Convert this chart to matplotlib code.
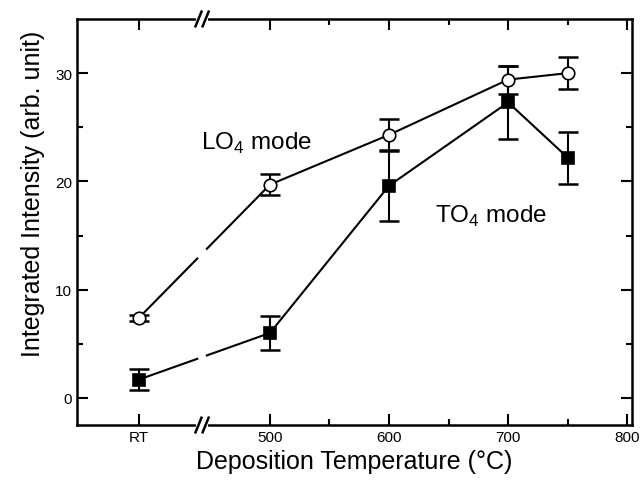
import matplotlib
matplotlib.use('Agg')
import matplotlib.pyplot as plt
import numpy as np

plt.rcParams['font.family'] = ['Liberation Sans', 'DejaVu Sans']
plt.rcParams['mathtext.fontset'] = 'custom'
plt.rcParams['mathtext.rm'] = 'Liberation Sans'

# --- data ---
# "RT" is placed at x=390 on the temperature axis (left of the axis break)
temps = [390, 500, 600, 700, 750]
lo4 = [7.4, 19.7, 24.3, 29.4, 30.0]
lo4_err = [0.3, 1.0, 1.5, 1.3, 1.45]
to4 = [1.7, 6.0, 19.6, 27.3, 22.2]
to4_err = [1.0, 1.6, 3.3, 3.4, 2.4]

xticks = [390, 500, 600, 700, 800]
xtick_labels = ['RT', '500', '600', '700', '800']
xminor = [550, 650, 750]

BREAK_X = 443
GAP = 4


def split_at_break(x, y):
    # cut the connecting line around the axis break
    x = np.asarray(x, float)
    y = np.asarray(y, float)
    y_lo = np.interp(BREAK_X - GAP, x, y)
    y_hi = np.interp(BREAK_X + GAP, x, y)
    left = x < BREAK_X
    xa = np.append(x[left], BREAK_X - GAP)
    ya = np.append(y[left], y_lo)
    xb = np.insert(x[~left], 0, BREAK_X + GAP)
    yb = np.insert(y[~left], 0, y_hi)
    return (xa, ya), (xb, yb)


fig = plt.figure(figsize=(6.44, 4.85), dpi=100)
ax = fig.add_axes([0.1196, 0.1216, 0.8617, 0.8372])

for y, err, mk, fc in [(lo4, lo4_err, 'o', 'white'), (to4, to4_err, 's', 'black')]:
    (xa, ya), (xb, yb) = split_at_break(temps, y)
    ax.plot(xa, ya, color='black', lw=1.5, zorder=2)
    ax.plot(xb, yb, color='black', lw=1.5, zorder=2)
    ax.errorbar(temps, y, yerr=err, fmt='none', ecolor='black', elinewidth=1.5,
                capsize=7, capthick=1.8, zorder=3)
    ax.plot(temps, y, linestyle='none', marker=mk, markersize=9,
            markerfacecolor=fc, markeredgecolor='black', markeredgewidth=1.2, zorder=4)

ax.text(442, 23.6, 'LO$_4$ mode', fontsize=17.5, va='center', ha='left')
ax.text(639, 16.9, 'TO$_4$ mode', fontsize=17.5, va='center', ha='left')

ax.set_xlim(338, 804)
ax.set_ylim(-2.5, 35)
ax.set_xticks(xticks)
ax.set_xticklabels(xtick_labels)
ax.set_xticks(xminor, minor=True)
ax.set_yticks([0, 10, 20, 30])
ax.set_yticks([5, 15, 25], minor=True)
ax.tick_params(which='both', direction='in', top=True, right=True, labelsize=11, width=1.5)
ax.tick_params(which='major', length=8)
ax.tick_params(which='minor', length=4)
for s in ax.spines.values():
    s.set_linewidth(1.8)

ax.set_xlabel('Deposition Temperature (°C)', fontsize=18, labelpad=4)
ax.set_ylabel('Integrated Intensity (arb. unit)', fontsize=18)
ax.yaxis.set_label_coords(-0.058, 0.571)

# axis break marks "//" on top and bottom spines
trans = ax.get_xaxis_transform()
for yb in [0, 1]:
    ax.plot([BREAK_X - 3, BREAK_X + 3], [yb, yb], color='white', lw=3,
            transform=trans, clip_on=False, zorder=5)
    for dx in [-3, 3]:
        xc = BREAK_X + dx
        ax.plot([xc - 2.5, xc + 2.5], [yb - 0.018, yb + 0.018], color='black', lw=1.8,
                transform=trans, clip_on=False, zorder=6)

fig.savefig('out.png', dpi=100)
